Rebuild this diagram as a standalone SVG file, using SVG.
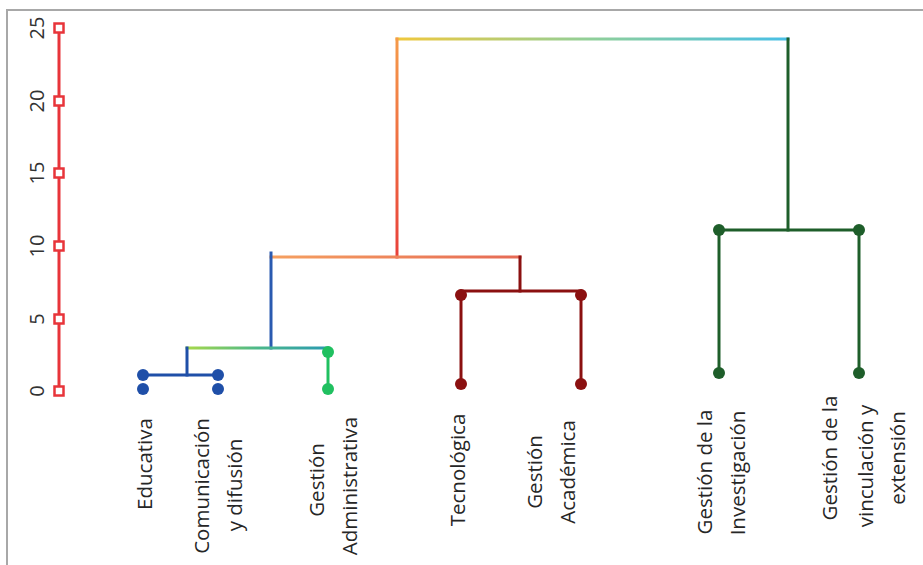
<svg xmlns="http://www.w3.org/2000/svg" width="923" height="565" viewBox="0 0 923 565">
<style>
.lbl{font-family:"Open Sans","Liberation Sans",sans-serif;font-size:20.5px;fill:#262626;text-anchor:middle}
.tick{font-family:"Open Sans","Liberation Sans",sans-serif;font-size:20px;fill:#333;text-anchor:middle}
.ln{fill:none;stroke-width:3;stroke-linecap:square}
.mk{fill:#fff;stroke:#e8343a;stroke-width:2.5}
</style>
<defs>
<linearGradient id="gTop" x1="397" y1="0" x2="788" y2="0" gradientUnits="userSpaceOnUse">
<stop offset="0" stop-color="#f0c83c"/><stop offset="0.5" stop-color="#8fcf9a"/><stop offset="1" stop-color="#48bfe6"/>
</linearGradient>
<linearGradient id="gRedV" x1="0" y1="257" x2="0" y2="39" gradientUnits="userSpaceOnUse">
<stop offset="0" stop-color="#e8403a"/><stop offset="1" stop-color="#f59a4a"/>
</linearGradient>
<linearGradient id="gOr" x1="271" y1="0" x2="520" y2="0" gradientUnits="userSpaceOnUse">
<stop offset="0" stop-color="#f5a060"/><stop offset="1" stop-color="#e66a55"/>
</linearGradient>
<linearGradient id="gGr" x1="187" y1="0" x2="328" y2="0" gradientUnits="userSpaceOnUse">
<stop offset="0" stop-color="#a6d84a"/><stop offset="0.5" stop-color="#4cb88a"/><stop offset="1" stop-color="#2a9ab0"/>
</linearGradient>
</defs>
<rect x="7" y="10" width="930" height="600" fill="#fff" stroke="#a8a8a8" stroke-width="2"/>
<g id="axis">
<line x1="59" y1="28" x2="59" y2="391" stroke="#e8343a" stroke-width="3"/>
<rect class="mk" x="54.5" y="23.5" width="9" height="9"/>
<rect class="mk" x="54.5" y="96.5" width="9" height="9"/>
<rect class="mk" x="54.5" y="168.5" width="9" height="9"/>
<rect class="mk" x="54.5" y="241.5" width="9" height="9"/>
<rect class="mk" x="54.5" y="314.5" width="9" height="9"/>
<rect class="mk" x="54.5" y="386.5" width="9" height="9"/>
<text class="tick" transform="translate(44,28) rotate(-90)">25</text>
<text class="tick" transform="translate(44,101) rotate(-90)">20</text>
<text class="tick" transform="translate(44,173) rotate(-90)">15</text>
<text class="tick" transform="translate(44,246) rotate(-90)">10</text>
<text class="tick" transform="translate(44,319) rotate(-90)">5</text>
<text class="tick" transform="translate(44,391) rotate(-90)">0</text>
</g>
<g id="connectors">
<path class="ln" stroke="url(#gTop)" d="M397 39 H788"/>
<path class="ln" stroke="url(#gRedV)" d="M397 257 V39"/>
<path class="ln" stroke="#1e5e2a" d="M788 39 V230"/>
<path class="ln" stroke="url(#gOr)" d="M271 257 H520"/>
<path class="ln" stroke="#2a5ab0" d="M271 348 V253"/>
<path class="ln" stroke="#8b1010" d="M520 257 V291"/>
<path class="ln" stroke="url(#gGr)" d="M187 348 H328"/>
<path class="ln" stroke="#1f4fa8" d="M187 348 V375"/>
<path class="ln" stroke="#1f4fa8" d="M143 375 H218"/>
<path class="ln" stroke="#20c060" d="M328 352 V389"/>
<path class="ln" stroke="#8b1010" d="M461 291 H581"/>
<path class="ln" stroke="#8b1010" d="M461 295 V384"/>
<path class="ln" stroke="#8b1010" d="M581 295 V384"/>
<path class="ln" stroke="#1e5e2a" d="M719 230 H859"/>
<path class="ln" stroke="#1e5e2a" d="M719 230 V373"/>
<path class="ln" stroke="#1e5e2a" d="M859 230 V373"/>
</g>
<g id="educativa">
<circle cx="143" cy="375" r="6" fill="#1f4fa8"/><circle cx="143" cy="389" r="6" fill="#1f4fa8"/>
<text class="lbl" transform="translate(152,464) rotate(-90)">Educativa</text>
</g>
<g id="comunicacion">
<circle cx="218" cy="375" r="6" fill="#1f4fa8"/><circle cx="218" cy="389" r="6" fill="#1f4fa8"/>
<text class="lbl" transform="translate(209,486) rotate(-90)">Comunicación</text>
<text class="lbl" transform="translate(242,485) rotate(-90)">y difusión</text>
</g>
<g id="gestion-administrativa">
<circle cx="328" cy="352" r="6" fill="#20c060"/><circle cx="328" cy="389" r="6" fill="#20c060"/>
<text class="lbl" transform="translate(324,480) rotate(-90)">Gestión</text>
<text class="lbl" transform="translate(357,486) rotate(-90)">Administrativa</text>
</g>
<g id="tecnologica">
<circle cx="461" cy="295" r="6" fill="#8b1010"/><circle cx="461" cy="384" r="6" fill="#8b1010"/>
<text class="lbl" transform="translate(465,470) rotate(-90)">Tecnológica</text>
</g>
<g id="gestion-academica">
<circle cx="581" cy="295" r="6" fill="#8b1010"/><circle cx="581" cy="384" r="6" fill="#8b1010"/>
<text class="lbl" transform="translate(542,472) rotate(-90)">Gestión</text>
<text class="lbl" transform="translate(575,472) rotate(-90)">Académica</text>
</g>
<g id="gestion-investigacion">
<circle cx="719" cy="230" r="6" fill="#1e5e2a"/><circle cx="719" cy="373" r="6" fill="#1e5e2a"/>
<text class="lbl" transform="translate(712,472) rotate(-90)">Gestión de la</text>
<text class="lbl" transform="translate(745,473) rotate(-90)">Investigación</text>
</g>
<g id="gestion-vinculacion">
<circle cx="859" cy="230" r="6" fill="#1e5e2a"/><circle cx="859" cy="373" r="6" fill="#1e5e2a"/>
<text class="lbl" transform="translate(837,458) rotate(-90)">Gestión de la</text>
<text class="lbl" transform="translate(873,466) rotate(-90)">vinculación y</text>
<text class="lbl" transform="translate(905,458) rotate(-90)">extensión</text>
</g>
</svg>
